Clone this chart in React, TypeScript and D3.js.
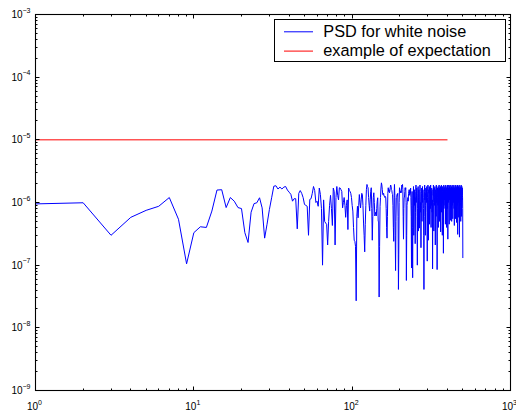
import React from 'react';
import * as d3 from 'd3';

const W = 516;
const H = 412;

const xDomain: [number, number] = [1, 1000];
const yDomain: [number, number] = [1e-9, 1e-3];
const legendLabels = ['PSD for white noise', 'example of expectation'];
const seriesColors = ['#0000ff', '#ff0000'];
const expectationLevel = 1e-5;
const expectationRange: [number, number] = [1, 400];

// PSD values in units of 1e-7, for frequencies 1..500
const PSD_UNIT = 1e-7;
const psd: number[] = [
  9.5, 9.9, 3.0, 5.8, 7.5, 8.7, 12, 5.4, 1.05, 3.3,
  4.1, 4.0, 7.3, 15.8, 16, 8.3, 12, 10.5, 8.3, 8.0,
  3.3, 2.3, 7.0, 9.6, 9.9, 11.9, 8.2, 2.7, 4.5, 7.7,
  11.9, 18.2, 18.5, 16.4, 17.6, 16.4, 17.6, 18, 15.8, 14.6,
  13.5, 10.5, 11.5, 11.5, 3.8, 14, 15.5, 14, 12, 9.3,
  9.0, 8.7, 3.0, 11.2, 11.5, 14, 18, 15.5, 10, 10.5,
  8.7, 17, 13.4, 8, 1.0, 11, 5.0, 4.7, 4.5, 2.1,
  5, 9, 13, 8, 4.3, 17, 15, 2.1, 12, 18,
  13, 11, 17.2, 17, 16, 15, 8.2, 10, 12, 9,
  5.8, 9, 11, 3.7, 17, 15.5, 15, 14, 12, 9,
  7.3, 4, 2.5, 2.4, 2.0, 0.27,
  6, 8.7, 5.7, 9, 13.4, 10, 8.2, 11, 14, 13.4,
  9, 4.7, 3, 1.63, 4.5, 9, 16, 19.4, 18, 17.2,
  12, 9, 7.3, 11, 15, 17.2, 8, 2.5, 6, 12,
  14.3, 10, 6.1, 6.5, 7, 6.1, 8, 10.5, 11.9, 5,
  5, 0.31, 2, 8.7, 12, 17, 20.6, 19, 16, 13.4,
  13.4, 14, 12.6, 12.6, 12, 12.5, 11.9, 8, 4, 2.7,
  6, 14, 17.2, 15, 16, 14.3, 15.2, 17.5, 19, 18.2,
  16, 15.5, 14, 13.4, 9, 4, 2.4, 12, 19.4, 13,
  3, 0.82, 5, 11.9, 12, 13.4, 13, 14, 6, 0.41,
  1.5, 10, 17.2, 16, 15, 14.3, 15.2, 14.3, 17, 19,
  18, 19.4, 16, 6, 2.6, 8, 12, 12, 15, 17.2,
  16, 17.2, 10, 0.57, 3, 9, 10.5, 11, 12, 10.5,
  14, 15.2, 16, 15.2, 13, 16,
  14, 17, 12, 6, 0.9, 9, 15, 4, 0.63, 8,
  13, 18, 3, 11, 16, 9, 12, 2.2, 7, 15,
  19, 10, 13, 17, 6, 1.0, 8, 14, 18, 3.5,
  12, 16, 9, 3.9, 11, 19, 15, 7, 10, 1.9,
  9, 14, 17, 5, 13, 18, 10, 16, 12, 8,
  3, 0.41, 6, 15, 19, 11, 14, 3, 9, 17,
  13, 16, 10, 18, 7, 1.16, 12, 15, 19, 9,
  2.5, 11, 16, 14, 18, 4.5, 10, 17, 13, 8,
  19, 12, 4, 15, 9, 17, 14, 7, 11, 0.87,
  8, 16, 13, 19, 10, 3.5, 14, 17, 9, 12,
  18, 15, 2.1, 11, 16, 13, 6, 19, 10, 14,
  8, 0.85, 12, 17, 15, 9, 18, 4, 13, 16,
  11, 19, 14, 5, 17, 10, 15, 12, 18, 3.4,
  9, 16, 13, 19, 7, 14, 17, 11, 3, 15,
  18, 12, 10, 16, 1.55, 13, 19, 8, 15, 17,
  11, 14, 18, 9, 16, 4.5, 12, 19, 13, 10,
  17, 15, 4, 11, 18, 14, 8, 16, 19, 2.6,
  12, 15, 10, 17, 13, 19, 9, 4.5, 14, 18,
  11, 16, 12, 19, 5.2, 15, 10, 17, 14, 8,
  18, 13, 5, 16, 11, 19, 9, 15, 17, 5.5,
  12, 18, 14, 10, 16, 13, 19, 8, 15, 4.3,
  17, 11, 14, 18, 9, 16, 12, 5.5, 19, 13,
  10, 15, 17, 4.8, 14, 18, 11, 16, 9, 19,
  12, 3.1, 15, 17, 10, 14, 18, 13, 5.8, 16,
  11, 19, 15, 2.8, 12, 17, 14, 9, 18, 16,
  13, 10, 5, 17, 15, 19, 12, 6, 16, 14,
  18, 11, 15, 17, 13, 12, 8, 1.3,
];

const FONT = '"Liberation Sans", Arial, Helvetica, sans-serif';

function isMajor(t: number) {
  const l = Math.log10(t);
  return Math.abs(l - Math.round(l)) < 1e-9;
}

function expLabel(t: number) {
  const e = Math.round(Math.log10(t));
  return e < 0 ? '\u2212' + Math.abs(e) : String(e);
}

export default function App() {
  const L = 35.5, R = 510.5, T = 14.5, B = 390.5;
  const x = d3.scaleLog().domain(xDomain).range([L, R]);
  const y = d3.scaleLog().domain(yDomain).range([B, T]);

  const line = d3
    .line<number>()
    .x((_, i) => x(i + 1))
    .y((d) => y(d * PSD_UNIT));

  const xTicks = x.ticks();
  const yTicks = y.ticks();

  const major = 4, minor = 2;
  const snap = (v: number) => Math.round(v - 0.5) + 0.5;

  return (
    <svg
      width={W}
      height={H}
      style={{ position: 'absolute', left: 0, top: 0, background: '#fff' }}
      fontFamily={FONT}
    >
      <rect x={0} y={0} width={W} height={H} fill="#fff" />
      <path d={line(psd) || ''} fill="none" stroke={seriesColors[0]} strokeWidth={1} strokeLinejoin="round" />
      <line
        x1={x(expectationRange[0])}
        x2={x(expectationRange[1])}
        y1={y(expectationLevel)}
        y2={y(expectationLevel)}
        stroke={seriesColors[1]}
        strokeWidth={1}
      />
      {/* frame */}
      <rect x={L} y={T} width={R - L} height={B - T} fill="none" stroke="#000" strokeWidth={1.1} />
      {/* x ticks */}
      {xTicks.map((t, i) => {
        const len = isMajor(t) ? major : minor;
        const px = snap(x(t));
        return (
          <g key={'xt' + i}>
            <line x1={px} x2={px} y1={B} y2={B - len} stroke="#000" strokeWidth={1} />
            <line x1={px} x2={px} y1={T} y2={T + len} stroke="#000" strokeWidth={1} />
          </g>
        );
      })}
      {yTicks.map((t, i) => {
        const len = isMajor(t) ? major : minor;
        const py = snap(y(t));
        return (
          <g key={'yt' + i}>
            <line x1={L} x2={L + len} y1={py} y2={py} stroke="#000" strokeWidth={1} />
            <line x1={R} x2={R - len} y1={py} y2={py} stroke="#000" strokeWidth={1} />
          </g>
        );
      })}
      {/* x labels */}
      {xTicks.filter(isMajor).map((t, i) => (
        <text key={'xl' + i} x={x(t) - 1} y={410} textAnchor="middle" fontSize={10} fill="#000">
          10
          <tspan dy={-5} fontSize={7}>{expLabel(t)}</tspan>
        </text>
      ))}
      {/* y labels */}
      {yTicks.filter(isMajor).map((t, i) => (
        <text key={'yl' + i} x={30.5} y={y(t) + 3.6} textAnchor="end" fontSize={10} fill="#000">
          10
          <tspan dy={-5.5} fontSize={7}>{expLabel(t)}</tspan>
        </text>
      ))}
      {/* legend */}
      <rect x={274.5} y={19.5} width={231} height={42} fill="#fff" stroke="#000" strokeWidth={1} />
      {legendLabels.map((lab, i) => (
        <g key={'lg' + i}>
          <line x1={284} x2={313} y1={31.8 + i * 19.3} y2={31.8 + i * 19.3} stroke={seriesColors[i]} strokeWidth={1} />
          <text x={323.3} y={36.7 + i * 19.3} fontSize={16.3} fill="#000">{lab}</text>
        </g>
      ))}
    </svg>
  );
}
